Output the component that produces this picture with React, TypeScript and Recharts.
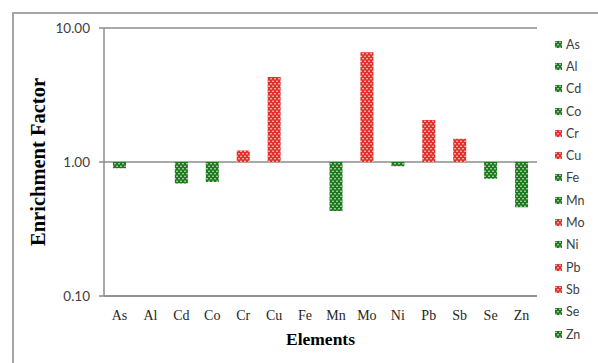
import React from 'react';
import { BarChart, Bar, XAxis, YAxis, CartesianGrid, Cell } from 'recharts';

const elements = ['As', 'Al', 'Cd', 'Co', 'Cr', 'Cu', 'Fe', 'Mn', 'Mo', 'Ni', 'Pb', 'Sb', 'Se', 'Zn'];
const enrichment = [0.9, 1.0, 0.69, 0.71, 1.22, 4.3, 1.0, 0.43, 6.6, 0.93, 2.06, 1.49, 0.75, 0.46];
const yTicks = [0.1, 1, 10];

const GREEN = '#1b7a1b';
const RED = '#e2302a';

const data = elements.map((name, i) => ({
  name,
  value: enrichment[i],
  range: [Math.min(1, enrichment[i]), Math.max(1, enrichment[i])],
}));

const fillFor = (v: number) => (v > 1 ? 'url(#dotRed)' : 'url(#dotGreen)');

const Pattern = ({ id, color }: { id: string; color: string }) => (
  <pattern id={id} patternUnits="userSpaceOnUse" width={4} height={5}>
    <rect x={0} y={0} width={4} height={5} fill={color} />
    <circle cx={1} cy={1.2} r={0.75} fill="#ffffff" />
    <circle cx={3} cy={3.7} r={0.75} fill="#ffffff" />
  </pattern>
);

export default function App() {
  return (
    <div style={{ position: 'absolute', left: 0, top: 0, width: 598, height: 363, overflow: 'hidden', background: '#fff' }}>
      <div
        style={{
          position: 'absolute',
          left: 12,
          top: 12,
          width: 640,
          height: 400,
          borderLeft: '2px solid #a6a6a6',
          borderTop: '2px solid #a6a6a6',
        }}
      />
      <div style={{ position: 'absolute', left: 0, top: 0 }}>
        <BarChart
          width={598}
          height={363}
          data={data}
          margin={{ top: 28, right: 61, bottom: 0, left: 0 }}
          barSize={13}
        >
          <defs>
            <Pattern id="dotGreen" color={GREEN} />
            <Pattern id="dotRed" color={RED} />
          </defs>
          <CartesianGrid vertical={false} stroke="#8c8c8c" strokeWidth={1.5} />
          <XAxis
            dataKey="name"
            height={67}
            axisLine={{ stroke: '#8c8c8c', strokeWidth: 1.5 }}
            tickLine={false}
            tickMargin={8}
            interval={0}
            tick={{ fill: '#262626', fontFamily: '"Liberation Serif", serif', fontSize: 14 }}
            label={{
              value: 'Elements',
              position: 'insideBottom',
              offset: 18,
              style: { fontFamily: '"Liberation Serif", serif', fontWeight: 'bold', fontSize: 17.5, fill: '#000' },
            }}
          />
          <YAxis
            scale="log"
            domain={[0.1, 10]}
            ticks={yTicks}
            allowDataOverflow
            width={104}
            axisLine={{ stroke: '#8c8c8c', strokeWidth: 1.5 }}
            tickLine={{ stroke: '#8c8c8c', strokeWidth: 1.5 }}
            tickSize={5}
            tickMargin={9}
            tickFormatter={(v: number) => v.toFixed(2)}
            tick={{ fill: '#404040', fontFamily: 'Lato, "Open Sans", sans-serif', fontSize: 13.5 }}
            label={{
              value: 'Enrichment Factor',
              angle: -90,
              position: 'insideLeft',
              offset: 38,
              style: {
                textAnchor: 'middle',
                fontFamily: '"Liberation Serif", serif',
                fontWeight: 'bold',
                fontSize: 20.5,
                fill: '#000',
              },
            }}
          />
          <Bar dataKey="range" isAnimationActive={false}>
            {data.map((d) => (
              <Cell key={d.name} fill={fillFor(d.value)} />
            ))}
          </Bar>
        </BarChart>
      </div>
      <div style={{ position: 'absolute', left: 555, top: 33 }}>
        {data.map((d) => (
          <div
            key={d.name}
            style={{
              height: 22.3,
              display: 'flex',
              alignItems: 'center',
              fontFamily: 'Lato, "Open Sans", sans-serif',
              fontSize: 12.5,
              color: '#404040',
            }}
          >
            <svg width={7} height={7} style={{ marginRight: 4 }}>
              <rect x={0} y={0} width={7} height={7} fill={d.value > 1 ? 'url(#dotRed)' : 'url(#dotGreen)'} />
            </svg>
            <span>{d.name}</span>
          </div>
        ))}
      </div>
    </div>
  );
}
